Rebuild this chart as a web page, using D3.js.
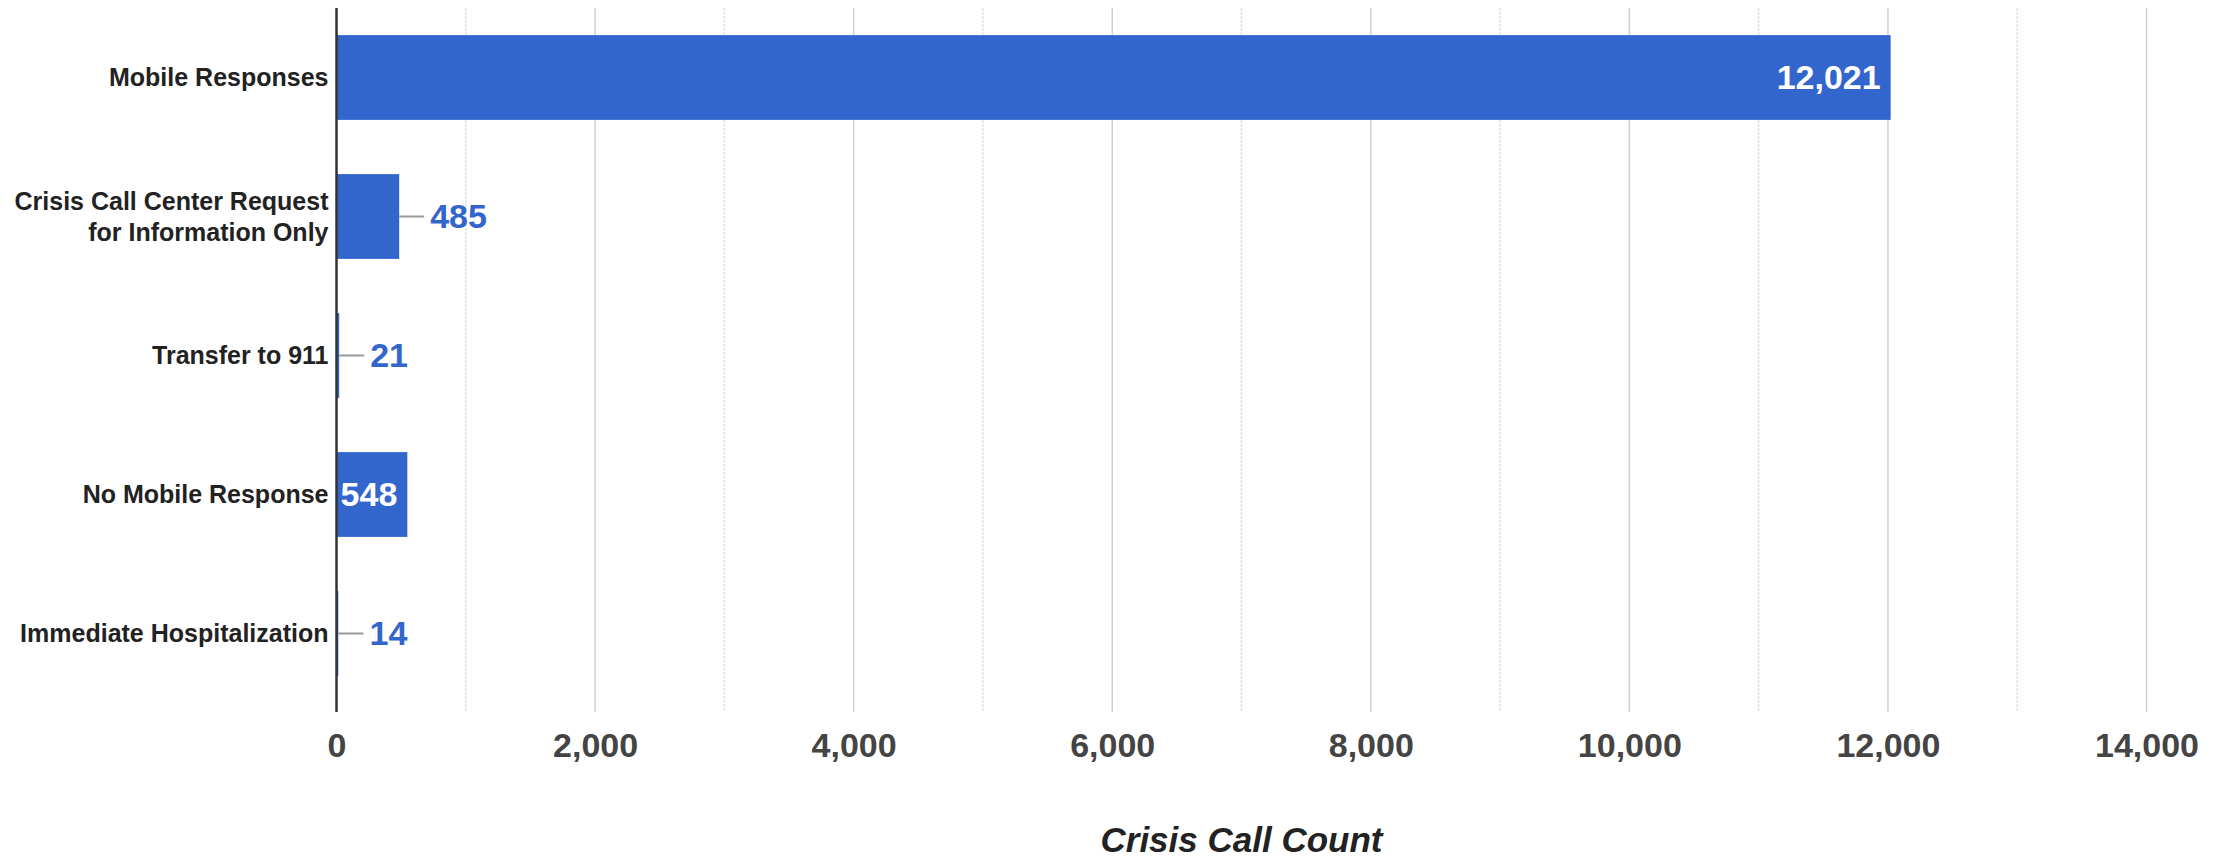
<!DOCTYPE html>
<html><head><meta charset="utf-8">
<script src="https://cdn.jsdelivr.net/npm/d3@7"></script>
<style>
html,body{margin:0;padding:0;background:#fff;}
svg{display:block;font-family:"Liberation Sans",Arial,sans-serif;}
</style></head>
<body><svg id="chart" width="2226" height="858"></svg>
<script>
const categories = [
  ["Mobile Responses"],
  ["Crisis Call Center Request", "for Information Only"],
  ["Transfer to 911"],
  ["No Mobile Response"],
  ["Immediate Hospitalization"]
];
const values = [12021, 485, 21, 548, 14];
const majorTicks = [0, 2000, 4000, 6000, 8000, 10000, 12000, 14000];
const minorTicks = [1000, 3000, 5000, 7000, 9000, 11000, 13000];
const axisTitle = "Crisis Call Count";

(function () {
const svg = d3.select("#chart");
const pL = 336.5, pR = 2146.5, pT = 8, pB = 703;
const x = d3.scaleLinear().domain([0, 14000]).range([pL, pR]);
const y = d3.scaleBand().domain(d3.range(values.length)).range([pT, pB]).paddingInner(0.39).paddingOuter(0.195);
const blue = "#3366cc";
const fmt = d3.format(",");

// gridlines
svg.append("g").selectAll("line").data(minorTicks).join("line")
  .attr("x1", d => x(d)).attr("x2", d => x(d)).attr("y1", pT).attr("y2", 712)
  .attr("stroke", "#e4e4e4").attr("stroke-width", 1.5).attr("stroke-dasharray", "3,1");
svg.append("g").selectAll("line").data(majorTicks.filter(d => d > 0)).join("line")
  .attr("x1", d => x(d)).attr("x2", d => x(d)).attr("y1", pT).attr("y2", 712)
  .attr("stroke", "#d0d0d0").attr("stroke-width", 1.5);

// x axis labels
const xAxis = d3.axisBottom(x).tickValues(majorTicks).tickFormat(fmt).tickSize(0).tickPadding(0);
const gx = svg.append("g").attr("transform", `translate(0,${pB})`).call(xAxis);
gx.select(".domain").remove();
gx.selectAll("text").attr("y", 54).attr("dy", null)
  .attr("font-size", 34).attr("font-weight", "bold").attr("fill", "#444")
  .attr("font-family", "Liberation Sans, Arial, sans-serif");

// bars
svg.append("g").selectAll("rect").data(values).join("rect")
  .attr("x", x(0)).attr("y", (d, i) => y(i))
  .attr("width", d => Math.max(1.5, x(d) - x(0))).attr("height", y.bandwidth())
  .attr("fill", blue);

// baseline
svg.append("line").attr("x1", x(0)).attr("x2", x(0)).attr("y1", pT).attr("y2", 712)
  .attr("stroke", "#333").attr("stroke-width", 2.5);

// category labels
const cl = svg.append("g");
categories.forEach((lines, i) => {
  const cy = y(i) + y.bandwidth() / 2;
  const lh = 31;
  const t = cl.append("text").attr("text-anchor", "end")
    .attr("font-size", 25).attr("font-weight", "bold").attr("fill", "#222");
  lines.forEach((ln, j) => {
    t.append("tspan").attr("x", pL - 8)
      .attr("y", cy + (j - (lines.length - 1) / 2) * lh).attr("dy", "0.35em").text(ln);
  });
});

// value labels
const vl = svg.append("g");
values.forEach((v, i) => {
  const cy = y(i) + y.bandwidth() / 2;
  const t = vl.append("text").attr("font-size", 34).attr("font-weight", "bold")
    .attr("dy", "0.35em").attr("y", cy).text(fmt(v));
  const tw = t.node().getComputedTextLength();
  const bw = x(v) - x(0);
  if (tw + 13 <= bw) {
    t.attr("x", x(v) - 10).attr("text-anchor", "end").attr("fill", "#fff");
  } else {
    const x0 = Math.max(x(v), x(0) + 2);
    vl.append("line").attr("x1", x0).attr("x2", x0 + 25).attr("y1", cy).attr("y2", cy)
      .attr("stroke", "#999").attr("stroke-width", 2);
    t.attr("x", x0 + 31).attr("text-anchor", "start").attr("fill", blue);
  }
});

// axis title
svg.append("text").attr("x", (pL + pR) / 2).attr("y", 852)
  .attr("text-anchor", "middle").attr("font-size", 35).attr("font-weight", "bold")
  .attr("font-style", "italic").attr("fill", "#222").text(axisTitle);
})();
</script></body></html>
